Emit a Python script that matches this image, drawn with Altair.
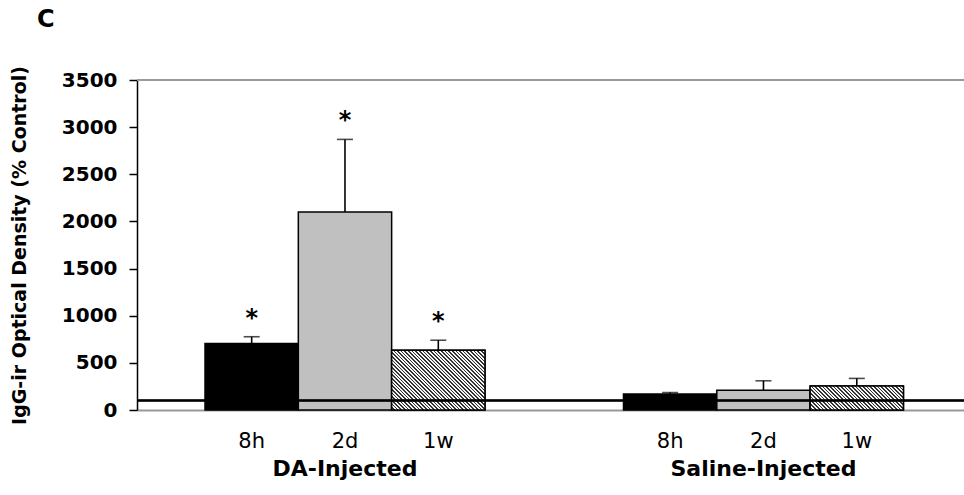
import math
import altair as alt
import pandas as pd

# ---- data ----
groups = ["DA-Injected", "DA-Injected", "DA-Injected",
          "Saline-Injected", "Saline-Injected", "Saline-Injected"]
times = ["8h", "2d", "1w", "8h", "2d", "1w"]
means = [705, 2100, 635, 170, 210, 255]
errors = [72, 770, 105, 15, 100, 80]
stars = ["*", "*", "*", "", "", ""]

time_order = ["8h", "2d", "1w"]
group_order = ["DA-Injected", "Saline-Injected"]
y_ticks = [0, 500, 1000, 1500, 2000, 2500, 3000, 3500]
control_level = 100
panel_label = ["C"]

df = pd.DataFrame({"group": groups, "time": times, "mean": means,
                   "err": errors, "star": stars})
df["top"] = df["mean"] + df["err"]

W, H = 827, 330
YMAX = 3500
P_INNER, P_OUTER, ALIGN = 0.331, 0.1536, 0.529
FONT = "DejaVu Sans"

step = W / (len(group_order) - P_INNER + 2 * P_OUTER)
bar_w = step * (1 - P_INNER) / len(time_order)


def hatch(value, period=2.6, duty=0.45, dark="#333333", light="#f4f4f4"):
    bw, bh = bar_w, value * H / YMAX
    n = max(1, int(round((bw + bh) / math.sqrt(2) / period)))
    stops = []
    for k in range(n):
        a, m, b = k / n, (k + 1 - duty) / n, (k + 1) / n
        stops += [alt.GradientStop(offset=round(a, 5), color=light),
                  alt.GradientStop(offset=round(m, 5), color=light),
                  alt.GradientStop(offset=round(m, 5), color=dark),
                  alt.GradientStop(offset=round(b, 5), color=dark)]
    s = (bw + bh) / (bw * bw + bh * bh)
    return alt.LinearGradient(gradient="linear", stops=stops,
                              x1=0, y1=1, x2=s * bw, y2=1 - s * bh)


x_enc = alt.X("group:N", sort=group_order,
              scale=alt.Scale(paddingInner=P_INNER, paddingOuter=P_OUTER, align=ALIGN),
              axis=alt.Axis(title=None, ticks=False, labelAngle=0, labelLimit=400,
                            labelFont=FONT, labelFontWeight="bold", labelFontSize=22,
                            labelColor="black", labelPadding=48,
                            domainColor="#999999", domainWidth=2))
xo_enc = alt.XOffset("time:N", sort=time_order,
                     scale=alt.Scale(paddingInner=0, paddingOuter=0))
y_enc = alt.Y("mean:Q", scale=alt.Scale(domain=[0, YMAX], nice=False),
              axis=alt.Axis(title="IgG-ir Optical Density (% Control)",
                            values=y_ticks, grid=False, format="d",
                            labelFont=FONT, labelFontWeight="bold", labelFontSize=20,
                            labelColor="black", labelPadding=12,
                            tickColor="black", tickSize=8, tickWidth=1.5,
                            domainColor="black", domainWidth=1.5,
                            titleFont=FONT, titleFontWeight="bold", titleFontSize=19,
                            titleColor="black", titlePadding=32))

base = alt.Chart(df).encode(x=x_enc, xOffset=xo_enc)

bars = base.mark_bar(stroke="black", strokeWidth=1.5).encode(
    y=y_enc,
    fill=alt.Fill("time:N", sort=time_order, legend=None,
                  scale=alt.Scale(domain=time_order, range=["black", "#c0c0c0", "white"])),
)

hatch_layers = []
for g, t, v in zip(groups, times, means):
    if t == "1w":
        hatch_layers.append(
            base.transform_filter((alt.datum.group == g) & (alt.datum.time == t))
            .mark_bar(fill=hatch(v), stroke="black", strokeWidth=1.5)
            .encode(y=alt.Y("mean:Q"))
        )

top_line = alt.Chart(df).mark_rule(color="#999999", strokeWidth=2).encode(y=alt.datum(YMAX))
control = alt.Chart(df).mark_rule(color="black", strokeWidth=1.5).encode(y=alt.datum(control_level))

err_rule = base.mark_rule(color="black", strokeWidth=1.6).encode(y="mean:Q", y2="top:Q")
err_cap = base.mark_tick(color="black", size=16, thickness=1.6).encode(y="top:Q")
star_txt = base.mark_text(font=FONT, fontWeight="bold", fontSize=24, baseline="alphabetic",
                          dy=-11, color="black").encode(y="top:Q", text="star:N")
time_txt = base.mark_text(font=FONT, fontSize=21, baseline="middle", color="black").encode(
    y=alt.value(H + 32), text="time:N")

label_c = alt.Chart(pd.DataFrame({"t": panel_label})).mark_text(
    font=FONT, fontWeight="bold", fontSize=24, align="left", baseline="alphabetic",
    color="black").encode(x=alt.value(-100), y=alt.value(-53), text="t:N")

chart = alt.layer(bars, *hatch_layers, top_line, control, err_rule, err_cap, star_txt,
                  time_txt, label_c).properties(
    width=W, height=H,
    autosize=alt.AutoSizeParams(type="none"),
    padding={"left": 137, "top": 80, "right": 0, "bottom": 85},
    background="white",
).configure_view(stroke=None)

chart.save("out.html", embed_options={"renderer": "svg", "actions": False})
